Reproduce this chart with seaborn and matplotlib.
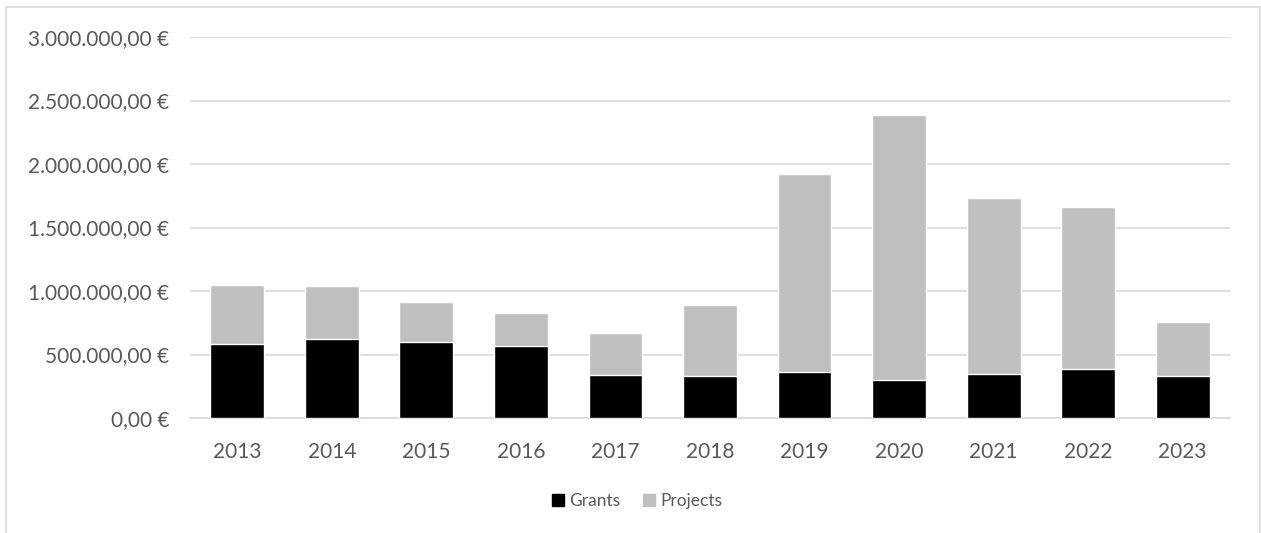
import numpy as np
import pandas as pd
import matplotlib
matplotlib.use("Agg")
import matplotlib.pyplot as plt
import matplotlib.patches as mpatches
from matplotlib.ticker import FuncFormatter
import seaborn as sns

# data
years = ["2013", "2014", "2015", "2016", "2017", "2018", "2019", "2020", "2021", "2022", "2023"]
grants = [580000, 622000, 596000, 567000, 339000, 333000, 362000, 299000, 344000, 383000, 328000]
projects = [467000, 420000, 317000, 257000, 333000, 557000, 1559000, 2087000, 1388000, 1278000, 428000]

df = pd.DataFrame({"Year": years, "Grants": grants, "Projects": projects})
df["Total"] = df["Grants"] + df["Projects"]

sns.set_theme(style="white")
plt.rcParams['font.family'] = ['Lato', 'DejaVu Sans']
text_col = "#595959"

fig = plt.figure(figsize=(12.61, 5.33), dpi=100)
ax = fig.add_axes([190/1261, 1 - 418/533, 1040/1261, 381/533])

# stacked bars: total in grey, grants in black on top
sns.barplot(data=df, x="Year", y="Total", color="#bfbfbf", width=0.57,
            saturation=1, ax=ax, zorder=3)
sns.barplot(data=df, x="Year", y="Grants", color="#000000", width=0.57,
            saturation=1, ax=ax, zorder=4)

ax.set_ylim(0, 3000000)
ax.set_xlim(-0.5, len(years) - 0.5)
ax.set_yticks(np.arange(0, 3000001, 500000))

def euro(v, pos):
    s = "{:,.2f}".format(v)
    s = s.replace(",", "X").replace(".", ",").replace("X", ".")
    return s + " €"

ax.yaxis.set_major_formatter(FuncFormatter(euro))
ax.grid(axis="y", color="#d9d9d9", linewidth=1.2, zorder=0)
ax.set_axisbelow(True)
for s in ["top", "right", "left"]:
    ax.spines[s].set_visible(False)
ax.spines["bottom"].set_color("#d9d9d9")
ax.spines["bottom"].set_linewidth(1.2)

ax.set_xlabel("")
ax.set_ylabel("")
ax.tick_params(axis="both", length=0, labelsize=15, colors=text_col)
ax.tick_params(axis="y", pad=15)
ax.tick_params(axis="x", pad=17)

handles = [mpatches.Patch(color="#000000", label="Grants"),
           mpatches.Patch(color="#bfbfbf", label="Projects")]
fig.legend(handles=handles, loc="center", bbox_to_anchor=(637/1261, 1 - 501/533),
           ncol=2, frameon=False, fontsize=12.5, handlelength=0.7, handleheight=0.7,
           handletextpad=0.3, columnspacing=1.3, labelcolor=text_col)

# chart border
border = mpatches.Rectangle((6/1261, -0.05), 1254/1261, 1.05 - 7/533,
                            transform=fig.transFigure, fill=False,
                            edgecolor="#d9d9d9", linewidth=1.2)
fig.patches.append(border)

fig.savefig("out.png", dpi=100)
